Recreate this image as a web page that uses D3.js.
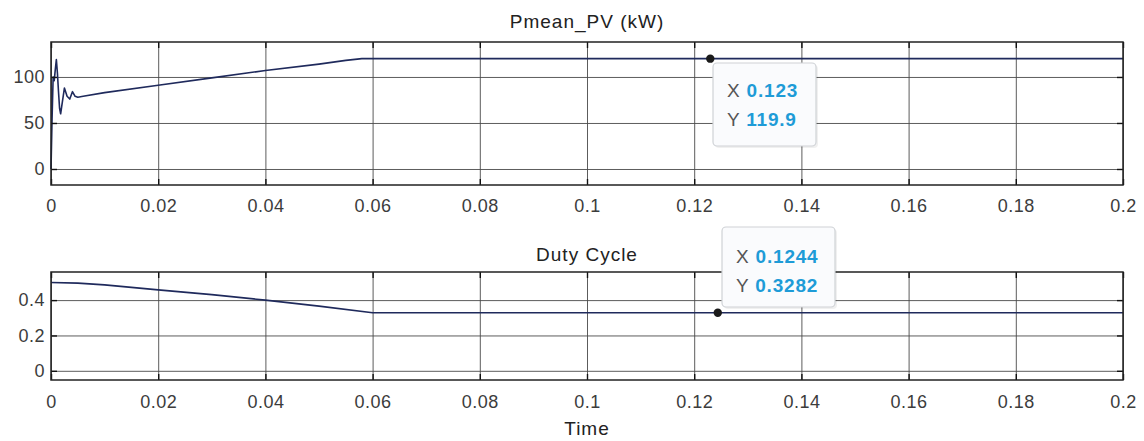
<!DOCTYPE html>
<html>
<head>
<meta charset="utf-8">
<script src="https://cdn.jsdelivr.net/npm/d3@7"></script>
<style>
  body { margin: 0; background: #fff; }
  svg { display: block; font-family: "Liberation Sans", Arial, sans-serif; }
  .tick text { font-size: 18px; fill: #3c3c3c; letter-spacing: 0.5px; }
  .grid line { stroke: #4a4a4a; stroke-width: 0.9; }
  .grid path { stroke: none; }
  .title { font-size: 19px; fill: #222; letter-spacing: 1px; }
  .tip-label { font-size: 19px; fill: #555; letter-spacing: 0.8px; }
  .tip-value { font-size: 19px; fill: #1e9bd7; font-weight: bold; letter-spacing: 0.8px; }
</style>
</head>
<body>
<svg id="chart" width="1144" height="441"></svg>
<script>
// time ticks shared by both panels
const xTicks = [0, 0.02, 0.04, 0.06, 0.08, 0.1, 0.12, 0.14, 0.16, 0.18, 0.2];
const xTickLabels = ['0', '0.02', '0.04', '0.06', '0.08', '0.1', '0.12', '0.14', '0.16', '0.18', '0.2'];

// Pmean_PV (kW)
const pvTime = [0, 0.0002, 0.0004, 0.0006, 0.0008, 0.001, 0.0012, 0.0014, 0.0016, 0.0018, 0.002,
  0.0025, 0.003, 0.0035, 0.004, 0.0045, 0.005, 0.006, 0.01, 0.02, 0.03, 0.04, 0.05, 0.055, 0.058, 0.2];
const pvValues = [0, 55, 100, 96, 108, 119, 104, 84, 66, 60, 68, 88, 79, 76, 84, 79, 78, 79, 83, 91, 99, 107, 114, 118, 119.9, 119.9];
const pvTicks = [0, 50, 100];

// Duty Cycle
const dutyTime = [0, 0.005, 0.01, 0.02, 0.03, 0.04, 0.05, 0.06, 0.2];
const dutyValues = [0.5, 0.496, 0.486, 0.458, 0.431, 0.4, 0.366, 0.3282, 0.3282];
const dutyTicks = [0, 0.2, 0.4];

// data tips
const pvTip = {x: 0.123, y: 119.9, xs: '0.123', ys: '119.9'};
const dutyTip = {x: 0.1244, y: 0.3282, xs: '0.1244', ys: '0.3282'};

const svg = d3.select('#chart');
const left = 51, right = 1123;
const lineColor = '#1f2a5c';

const xScale = d3.scaleLinear().domain([0, 0.2]).range([left, right]);

function panel(cfg) {
  const {top, bottom, yDomain, yTicks, yFormat, times, values, title, titleY, labelY} = cfg;
  const yScale = d3.scaleLinear().domain(yDomain).range([bottom, top]);
  const h = bottom - top;
  const w = right - left;
  const g = svg.append('g');

  // grid
  g.append('g')
    .attr('class', 'grid')
    .attr('transform', `translate(0,${bottom})`)
    .call(d3.axisBottom(xScale).tickValues(xTicks).tickSize(-h).tickFormat(''));
  g.append('g')
    .attr('class', 'grid')
    .attr('transform', `translate(${left},0)`)
    .call(d3.axisLeft(yScale).tickValues(yTicks).tickSize(-w).tickFormat(''));

  // the line
  const line = d3.line()
    .x((d, i) => xScale(times[i]))
    .y(d => yScale(d));
  g.append('path')
    .datum(values)
    .attr('fill', 'none')
    .attr('stroke', lineColor)
    .attr('stroke-width', 1.6)
    .attr('stroke-linejoin', 'round')
    .attr('d', line);

  // axes with inward ticks
  const xAxis = g.append('g')
    .attr('transform', `translate(0,${bottom})`)
    .call(d3.axisBottom(xScale).tickValues(xTicks).tickSizeInner(-6).tickSizeOuter(0)
      .tickPadding(0).tickFormat((d, i) => xTickLabels[i]));
  xAxis.selectAll('text').attr('y', labelY - bottom).attr('dy', 0);
  g.append('g')
    .attr('transform', `translate(0,${top})`)
    .call(d3.axisTop(xScale).tickValues(xTicks).tickSizeInner(-6).tickSizeOuter(0).tickFormat(''));
  g.append('g')
    .attr('transform', `translate(${left},0)`)
    .call(d3.axisLeft(yScale).tickValues(yTicks).tickSizeInner(-6).tickSizeOuter(0)
      .tickPadding(6).tickFormat(yFormat));
  g.append('g')
    .attr('transform', `translate(${right},0)`)
    .call(d3.axisRight(yScale).tickValues(yTicks).tickSizeInner(-6).tickSizeOuter(0).tickFormat(''));
  g.selectAll('.domain').remove();
  g.selectAll('.tick line').filter(function() { return !this.closest('.grid'); })
    .attr('stroke', '#111').attr('stroke-width', 1.4);
  g.selectAll('.tick text').attr('font-family', null).attr('font-size', null);

  // box
  g.append('rect')
    .attr('x', left).attr('y', top)
    .attr('width', w).attr('height', h)
    .attr('fill', 'none').attr('stroke', '#222').attr('stroke-width', 1.5);

  g.append('text')
    .attr('class', 'title')
    .attr('x', (left + right) / 2)
    .attr('y', titleY)
    .attr('text-anchor', 'middle')
    .text(title);

  return {g, yScale};
}

function dataTip(p, tip, box) {
  const cx = xScale(tip.x), cy = p.yScale(tip.y);
  const t = p.g.append('g');
  t.append('rect')
    .attr('x', box.x + 2).attr('y', box.y + 2)
    .attr('width', box.w).attr('height', box.h)
    .attr('rx', 4)
    .attr('fill', '#000').attr('opacity', 0.06);
  t.append('rect')
    .attr('x', box.x).attr('y', box.y)
    .attr('width', box.w).attr('height', box.h)
    .attr('rx', 4)
    .attr('fill', '#fafbfd').attr('stroke', '#cfd2d6').attr('stroke-width', 1.2);
  const rows = [['X ', tip.xs], ['Y ', tip.ys]];
  rows.forEach((r, i) => {
    const txt = t.append('text')
      .attr('x', box.x + 14)
      .attr('y', box.y + box.base + i * 29);
    txt.append('tspan').attr('class', 'tip-label').text(r[0]);
    txt.append('tspan').attr('class', 'tip-value').text(r[1]);
  });
  p.g.append('circle')
    .attr('cx', cx).attr('cy', cy).attr('r', 4.2)
    .attr('fill', '#1a1a1a');
}

const pv = panel({
  top: 42, bottom: 185, yDomain: [-17.4, 138], yTicks: pvTicks, yFormat: d => String(d),
  times: pvTime, values: pvValues, title: 'Pmean_PV (kW)', titleY: 28, labelY: 212
});
const duty = panel({
  top: 272, bottom: 380, yDomain: [-0.052, 0.559], yTicks: dutyTicks, yFormat: d => String(d),
  times: dutyTime, values: dutyValues, title: 'Duty Cycle', titleY: 261, labelY: 408
});

dataTip(pv, pvTip, {x: 713, y: 63, w: 103, h: 83, base: 34});
dataTip(duty, dutyTip, {x: 722, y: 227, w: 113, h: 80, base: 36});

svg.append('text')
  .attr('class', 'title')
  .attr('x', (left + right) / 2)
  .attr('y', 435)
  .attr('text-anchor', 'middle')
  .text('Time');
</script>
</body>
</html>
